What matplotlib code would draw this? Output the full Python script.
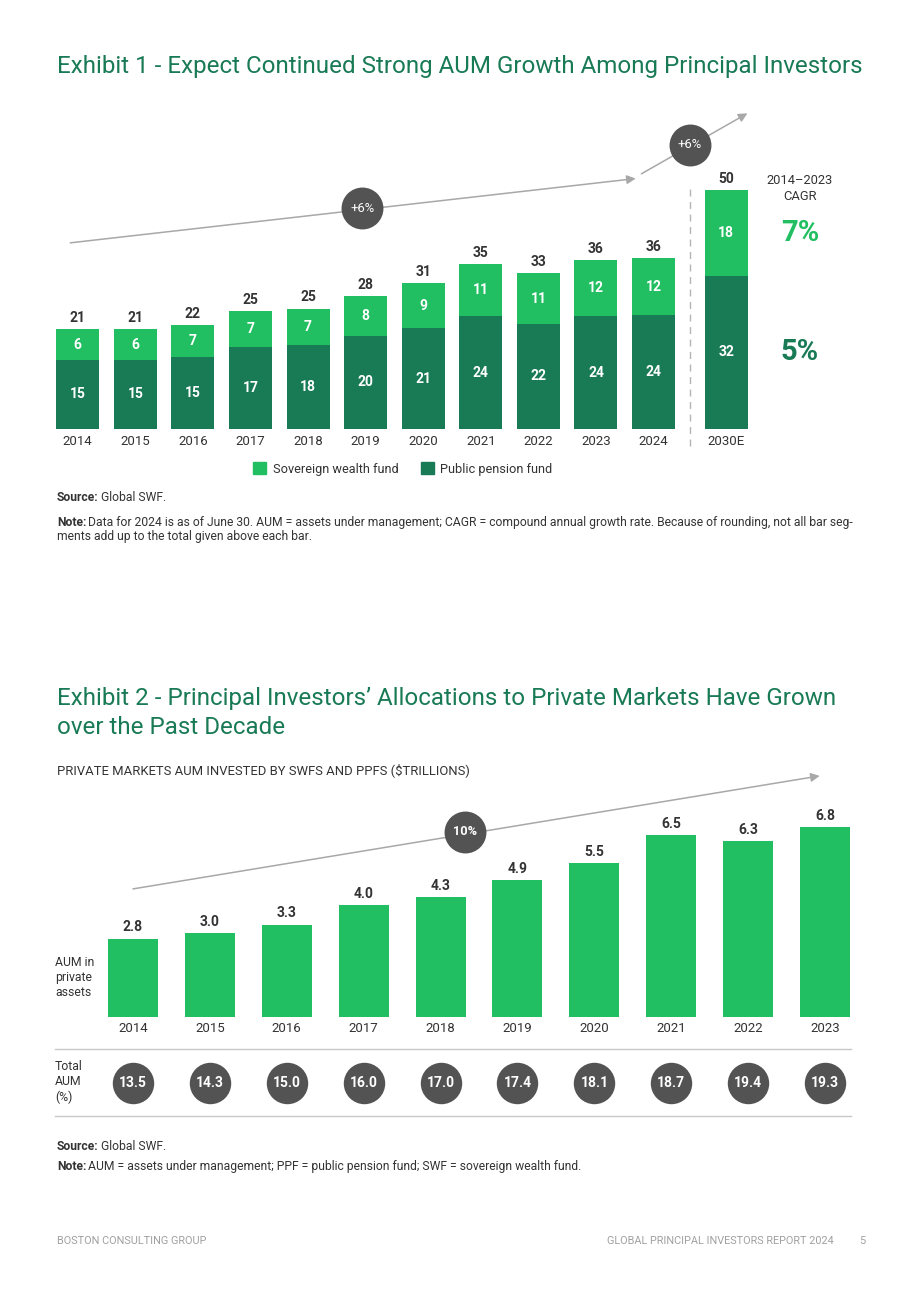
import numpy as np
import matplotlib.pyplot as plt
from matplotlib.patches import Patch

plt.rcParams['font.family'] = ['Roboto', 'DejaVu Sans']

LIGHT = '#21BF61'
DARK = '#197A56'
CIRCLE = '#535353'
TEXT = '#333333'
ARROW = '#A8A8A8'
TITLE = '#197A56'

# exhibit 1 data
years1 = ['2014', '2015', '2016', '2017', '2018', '2019', '2020',
          '2021', '2022', '2023', '2024', '2030E']
pension = [14.5, 14.5, 15.2, 17.3, 17.7, 19.6, 21.2, 23.7, 22.1, 23.7, 23.9, 32.2]
swf = [6.4, 6.4, 6.6, 7.5, 7.6, 8.4, 9.4, 11.0, 10.6, 11.8, 12.0, 18.0]
pension_lbl = [15, 15, 15, 17, 18, 20, 21, 24, 22, 24, 24, 32]
swf_lbl = [6, 6, 7, 7, 7, 8, 9, 11, 11, 12, 12, 18]
total_lbl = [21, 21, 22, 25, 25, 28, 31, 35, 33, 36, 36, 50]
growth1 = ['+6%', '+6%']
cagr_swf = '7%'
cagr_ppf = '5%'

# exhibit 2 data
years2 = ['2014', '2015', '2016', '2017', '2018', '2019', '2020', '2021', '2022', '2023']
private_aum = [2.8, 3.0, 3.3, 4.0, 4.3, 4.9, 5.5, 6.5, 6.3, 6.8]
total_aum_pct = ['13.5', '14.3', '15.0', '16.0', '17.0', '17.4', '18.1', '18.7', '19.4', '19.3']
growth2 = '10%'

W, H = 920, 1302
fig = plt.figure(figsize=(W / 100, H / 100), dpi=100)
bg = fig.add_axes([0, 0, 1, 1])
bg.set_xlim(0, W)
bg.set_ylim(H, 0)
bg.axis('off')
renderer = fig.canvas.get_renderer()


def ftext(x, y, s, **kw):
    kw.setdefault('color', TEXT)
    kw.setdefault('va', 'center')
    return bg.text(x, y, s, **kw)


def bold_lead(x, y, head, body, size=8.7):
    t = ftext(x, y, head, fontsize=size, weight='bold', va='baseline')
    w = t.get_window_extent(renderer).width
    ftext(x + w + 2, y, body, fontsize=size, va='baseline')


def px_axes(left, top, right, bottom):
    return fig.add_axes([left / W, 1 - bottom / H, (right - left) / W, (bottom - top) / H])


# ---------------- Exhibit 1 ----------------
ftext(57, 66, 'Exhibit 1 - Expect Continued Strong AUM Growth Among Principal Investors',
      fontsize=17.4, color=TITLE)
ftext(57, 107, 'AUM BY PRINCIPAL INVESTOR TYPE ($TRILLIONS)', fontsize=9.25)

ax1 = px_axes(40, 100, 900, 429)
ax1.set_xlim(-0.655, 14.28)
ax1.set_ylim(0, 69.1)
x1 = np.r_[np.arange(len(years1) - 1), len(years1) - 1 + 0.26]
bw = 0.747
ax1.bar(x1, pension, width=bw, color=DARK)
ax1.bar(x1, swf, width=bw, bottom=pension, color=LIGHT)
for i in range(len(years1)):
    p, s = pension[i], swf[i]
    ax1.text(x1[i], p / 2, str(pension_lbl[i]), ha='center', va='center',
             color='white', fontsize=10, weight='bold')
    ax1.text(x1[i], p + s / 2, str(swf_lbl[i]), ha='center', va='center',
             color='white', fontsize=10, weight='bold')
    ax1.annotate(str(total_lbl[i]), (x1[i], p + s), xytext=(0, 3),
                 textcoords='offset points', ha='center', va='bottom',
                 color=TEXT, fontsize=10, weight='bold')
ax1.set_xticks(x1, years1)
ax1.tick_params(axis='x', length=0, pad=4, labelsize=9.5, labelcolor=TEXT)
ax1.set_yticks([])
for sp in ax1.spines.values():
    sp.set_visible(False)

# growth arrows
arrow_kw = dict(arrowstyle='-|>', color=ARROW, lw=1.1, mutation_scale=13,
                shrinkA=0, shrinkB=0)
ax1.annotate('', xy=(9.69, 52.6), xytext=(-0.13, 39.1), arrowprops=arrow_kw)
ax1.annotate('', xy=(11.63, 66.3), xytext=(9.79, 53.6), arrowprops=arrow_kw,
             annotation_clip=False)
circ1 = [(4.94, 46.4), (10.63, 59.7)]
ax1.scatter([c[0] for c in circ1], [c[1] for c in circ1], s=910, color=CIRCLE,
            zorder=5, linewidths=0)
for (cx, cy), g in zip(circ1, growth1):
    ax1.text(cx, cy, g, ha='center', va='center', color='white', fontsize=9.4, zorder=6)

# divider before estimate
xd = (x1[-2] + x1[-1]) / 2
ax1.plot([xd, xd], [-3.6, 50.4], color='#B4B4B4', lw=1, ls=(0, (5, 4)), clip_on=False)

# CAGR column
xc = x1[-1] + 1.28
ax1.text(xc, total_lbl[-1] + 0.5, '2014\u20132023\nCAGR', ha='center', va='center',
         fontsize=9.3, color=TEXT, linespacing=1.3)
ax1.text(xc, pension[-1] + swf[-1] / 2, cagr_swf, ha='center', va='center',
         fontsize=21, weight='bold', color=LIGHT)
ax1.text(xc, pension[-1] / 2, cagr_ppf, ha='center', va='center',
         fontsize=21, weight='bold', color=DARK)

fig.legend(handles=[Patch(color=LIGHT, label='Sovereign wealth fund'),
                    Patch(color=DARK, label='Public pension fund')],
           loc='center', bbox_to_anchor=(403 / W, 1 - 469 / H), ncol=2, frameon=False,
           handlelength=1.0, handleheight=1.0, handletextpad=0.5, columnspacing=1.8,
           fontsize=9.2, labelcolor=TEXT)

bold_lead(57, 501, 'Source:', 'Global SWF.')
bold_lead(57, 526, 'Note:', 'Data for 2024 is as of June 30. AUM = assets under management; '
          'CAGR = compound annual growth rate. Because of rounding, not all bar seg-')
ftext(57, 540, 'ments add up to the total given above each bar.', fontsize=8.7, va='baseline')

# ---------------- Exhibit 2 ----------------
ftext(57, 713, 'Exhibit 2 - Principal Investors\u2019 Allocations to Private Markets Have Grown\n'
      'over the Past Decade', fontsize=17.4, color=TITLE, linespacing=1.36)
ftext(57, 770, 'PRIVATE MARKETS AUM INVESTED BY SWFS AND PPFS ($TRILLIONS)', fontsize=9.4)

ax2 = px_axes(40, 760, 900, 1130)
ax2.set_xlim(-1.209, 9.974)
ax2.set_ylim(-4.061, 9.2)
ax2.axis('off')
x2 = np.arange(len(years2))
ax2.bar(x2, private_aum, width=0.65, color=LIGHT)
for i, v in enumerate(private_aum):
    ax2.annotate(f'{v:.1f}', (x2[i], v), xytext=(0, 3), textcoords='offset points',
                 ha='center', va='bottom', color=TEXT, fontsize=10, weight='bold')
    ax2.annotate(years2[i], (x2[i], 0), xytext=(0, -12), textcoords='offset pixels',
                 ha='center', va='center', color=TEXT, fontsize=9.5)

ax2.annotate('', xy=(8.93, 8.63), xytext=(0, 4.58), arrowprops=arrow_kw)
ax2.scatter([4.32], [6.63], s=910, color=CIRCLE, zorder=5, linewidths=0)
ax2.text(4.32, 6.63, growth2, ha='center', va='center', color='white',
         fontsize=9.2, weight='bold', zorder=6)

row_y = -2.37
ax2.axhline(-1.17, xmin=0.0174, xmax=0.943, color='#C8C8C8', lw=1)
ax2.axhline(-3.56, xmin=0.0174, xmax=0.943, color='#C8C8C8', lw=1)
ax2.scatter(x2, [row_y] * len(x2), s=890, color=CIRCLE, linewidths=0, zorder=5)
for i, t in enumerate(total_aum_pct):
    ax2.text(x2[i], row_y, t, ha='center', va='center', color='white',
             fontsize=10, weight='bold', zorder=6)

ftext(55, 978, 'AUM in\nprivate\nassets', fontsize=8.8, linespacing=1.2)
ftext(55, 1082, 'Total\nAUM\n(%)', fontsize=8.8, linespacing=1.2)

bold_lead(57, 1150, 'Source:', 'Global SWF.')
bold_lead(57, 1170, 'Note:', 'AUM = assets under management; PPF = public pension fund; '
          'SWF = sovereign wealth fund.')

# footer
ftext(57, 1241, 'BOSTON CONSULTING GROUP', fontsize=7.8, color='#A0A0A0')
ftext(834, 1241, 'GLOBAL PRINCIPAL INVESTORS REPORT 2024', fontsize=7.8, color='#A0A0A0', ha='right')
ftext(862, 1241, '5', fontsize=7.8, color='#A0A0A0', ha='center')

fig.savefig('out.png', dpi=100, facecolor='white')
